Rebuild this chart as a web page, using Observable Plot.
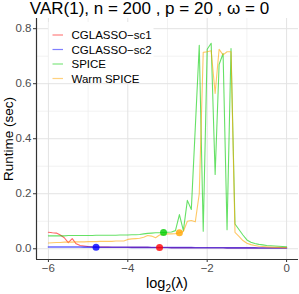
<!DOCTYPE html>
<html><head><meta charset="utf-8">
<script src="https://cdn.jsdelivr.net/npm/d3@7"></script>
<script src="https://cdn.jsdelivr.net/npm/@observablehq/plot@0.6"></script>
<style>body{margin:0;background:#fff} svg{display:block}</style>
</head><body><div id="chart"></div>
<script>
const titleText = "VAR(1), n = 200 , p = 20 , ω = 0";
const seriesNames = ["CGLASSO−sc1", "CGLASSO−sc2", "SPICE", "Warm SPICE"];
const seriesColors = ["#ff0000", "#0000ff", "#00cd00", "#ffa500"];
const xTicks = [-6, -4, -2, 0];
const xMinorTicks = [-5, -3, -1];
const yTicks = [0, 0.2, 0.4, 0.6, 0.8];
const yMinorTicks = [0.1, 0.3, 0.5, 0.7];

const logLambda = [-6.0,-5.9,-5.8,-5.7,-5.6,-5.5,-5.4,-5.3,-5.2,-5.1,-5.0,-4.9,-4.8,-4.7,-4.6,-4.5,-4.4,-4.3,-4.2,-4.1,-4.0,-3.9,-3.8,-3.7,-3.6,-3.5,-3.4,-3.3,-3.2,-3.1,-3.0,-2.9,-2.8,-2.7,-2.6,-2.5,-2.4,-2.3,-2.2,-2.1,-2.0,-1.9,-1.8,-1.7,-1.6,-1.5,-1.4,-1.3,-1.2,-1.1,-1.0,-0.9,-0.8,-0.7,-0.6,-0.5,-0.4,-0.3,-0.2,-0.1,0.0];

const sc1 = [0.060,0.058,0.057,0.050,0.040,0.022,0.037,0.018,0.012,0.010,
 0.008,0.007,0.0065,0.006,0.006,0.006,0.0058,0.0056,0.0055,0.0054,
 0.0053,0.0052,0.0051,0.005,0.005,0.0049,0.0048,0.0047,0.0046,0.0045,
 0.0044,0.0043,0.0042,0.0042,0.0041,0.004,0.004,0.0039,0.0038,0.0038,
 0.0037,0.0036,0.0036,0.0035,0.0035,0.0034,0.0034,0.0033,0.0033,0.0032,
 0.0032,0.0031,0.0031,0.003,0.003,0.003,0.003,0.003,0.003,0.003,0.003];

const sc2 = [0.0065,0.0065,0.0065,0.0064,0.0064,0.0063,0.0063,0.0062,0.0062,0.0061,
 0.006,0.006,0.0059,0.0058,0.0058,0.0057,0.0056,0.0055,0.0055,0.0054,
 0.0053,0.0052,0.0051,0.005,0.005,0.0049,0.0048,0.0047,0.0046,0.0045,
 0.0044,0.0043,0.0042,0.0042,0.0041,0.004,0.004,0.0039,0.0038,0.0038,
 0.0037,0.0036,0.0036,0.0035,0.0035,0.0034,0.0034,0.0033,0.0033,0.0032,
 0.0032,0.0031,0.0031,0.003,0.003,0.003,0.003,0.003,0.003,0.003,0.003];

const spice = [0.047,0.047,0.047,0.047,0.047,0.048,0.048,0.048,0.048,0.048,
 0.048,0.048,0.049,0.049,0.049,0.049,0.049,0.049,0.050,0.050,
 0.050,0.051,0.051,0.052,0.054,0.056,0.057,0.058,0.058,0.059,
 0.060,0.061,0.066,0.124,0.066,0.176,0.143,0.440,0.740,0.064,
 0.725,0.747,0.270,0.670,0.710,0.069,0.728,0.090,0.070,0.050,
 0.032,0.024,0.019,0.016,0.014,0.012,0.011,0.010,0.009,0.008,0.007];

const warm = [0.021,0.022,0.023,0.023,0.024,0.024,0.024,0.025,0.025,0.025,
 0.026,0.026,0.026,0.027,0.027,0.027,0.027,0.028,0.028,0.028,
 0.034,0.036,0.037,0.038,0.042,0.048,0.046,0.040,0.050,0.053,
 0.054,0.054,0.055,0.058,0.063,0.100,0.103,0.098,0.200,0.714,
 0.716,0.720,0.565,0.725,0.705,0.716,0.716,0.060,0.045,0.030,
 0.020,0.015,0.012,0.009,0.008,0.007,0.006,0.005,0.005,0.004,0.004];

const selLambda = [-3.2, -4.8, -3.1, -2.7];
const selRuntime = [0.0046, 0.0059, 0.059, 0.058];

const seriesValues = [sc1, sc2, spice, warm];
const seriesWidths = [1.1, 1.6, 1.1, 1.1];

const lineMarks = seriesValues.map((vals, k) =>
  Plot.line(vals.map((v, i) => ({x: logLambda[i], y: v})), {
    x: "x", y: "y", stroke: seriesColors[k], strokeOpacity: 0.6,
    strokeWidth: seriesWidths[k], strokeLinejoin: "round"
  })
);
const dotData = selLambda.map((x, k) => ({x, y: selRuntime[k], c: seriesColors[k]}));

const chart = Plot.plot({
  width: 299, height: 294,
  marginLeft: 36, marginRight: 1, marginTop: 18, marginBottom: 35,
  style: {fontFamily: "'Liberation Sans', Arial, sans-serif", background: "#fff"},
  x: {domain: [-6.3, 0.3]},
  y: {domain: [-0.039, 0.837]},
  marks: [
    Plot.gridX(xMinorTicks, {stroke: "#ededed", strokeOpacity: 1, strokeWidth: 0.7}),
    Plot.gridY(yMinorTicks, {stroke: "#ededed", strokeOpacity: 1, strokeWidth: 0.7}),
    Plot.gridX(xTicks, {stroke: "#e3e3e3", strokeOpacity: 1, strokeWidth: 1}),
    Plot.gridY(yTicks, {stroke: "#e3e3e3", strokeOpacity: 1, strokeWidth: 1}),
    ...lineMarks,
    Plot.dot(dotData, {x: "x", y: "y", fill: d => d.c, fillOpacity: 0.8, r: 3.5, stroke: "none"}),
    Plot.axisX(xTicks, {tickSize: 3, tickPadding: 1.5, fontSize: 11.5, stroke: "#333", fill: "#4d4d4d", label: null}),
    Plot.axisY(yTicks, {tickSize: 3, tickPadding: 2, fontSize: 11.5, stroke: "#333", fill: "#4d4d4d", label: null, tickFormat: d3.format(".1f")}),
    Plot.ruleX([-6.3], {stroke: "#333", strokeWidth: 1.2}),
    Plot.ruleY([-0.039], {stroke: "#333", strokeWidth: 1.2})
  ]
});
document.getElementById("chart").appendChild(chart);

const svg = d3.select(chart);
const font = "'Liberation Sans', Arial, sans-serif";
svg.append("text").attr("x", 149.5).attr("y", 14).attr("text-anchor", "middle")
  .attr("font-size", 17).attr("font-family", font).attr("fill", "#000").text(titleText);

const xl = svg.append("text").attr("x", 167).attr("y", 288).attr("text-anchor", "middle")
  .attr("font-size", 14.5).attr("font-family", font).attr("fill", "#000");
xl.append("tspan").text("log");
xl.append("tspan").attr("font-size", 10).attr("dy", 4).text("2");
xl.append("tspan").attr("dy", -4).text("(λ)");

svg.append("text").attr("transform", "translate(12.5,139) rotate(-90)").attr("text-anchor", "middle")
  .attr("font-size", 13.5).attr("font-family", font).attr("fill", "#000").text("Runtime (sec)");

const lg = svg.append("g").attr("text-anchor", "start");
lg.append("rect").attr("x", 48.5).attr("y", 22).attr("width", 105).attr("height", 61).attr("fill", "#fff");
seriesNames.forEach((name, k) => {
  const cy = 35 + 14.5 * k;
  lg.append("line").attr("x1", 52.5).attr("x2", 63).attr("y1", cy).attr("y2", cy)
    .attr("stroke", seriesColors[k]).attr("stroke-opacity", 0.5).attr("stroke-width", 1.2);
  lg.append("text").attr("x", 71.5).attr("y", cy + 4).attr("font-size", 11.5).attr("text-anchor", "start")
    .attr("font-family", font).attr("fill", "#000").text(name);
});
</script>
</body></html>
